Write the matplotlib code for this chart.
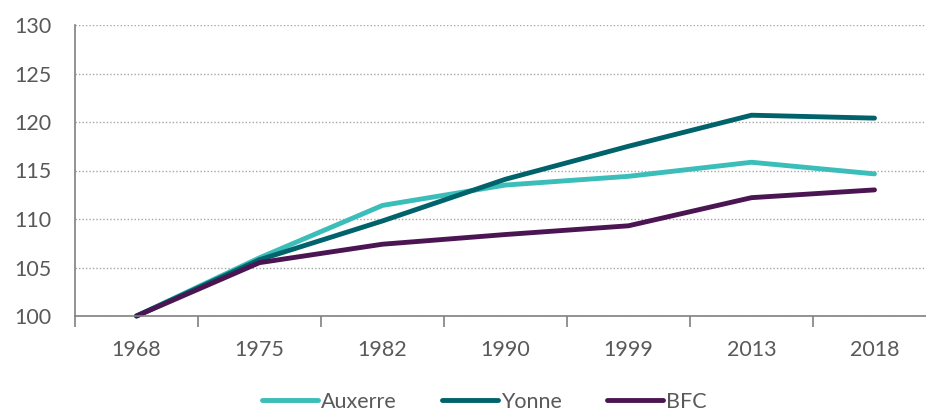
import matplotlib
matplotlib.use("Agg")
import matplotlib.pyplot as plt
import numpy as np

years = ["1968", "1975", "1982", "1990", "1999", "2013", "2018"]
auxerre = [100, 106.0, 111.4, 113.5, 114.4, 115.85, 114.65]
yonne = [100, 105.8, 109.8, 114.1, 117.5, 120.7, 120.4]
bfc = [100, 105.5, 107.4, 108.4, 109.3, 112.2, 113.0]
yticks = [100, 105, 110, 115, 120, 125, 130]

plt.rcParams['font.family'] = ['Lato', 'DejaVu Sans']
grey = '#595959'

fig = plt.figure(figsize=(9.26, 4.13), dpi=100)
ax = fig.add_axes([75/926, 1-316/413, 861/926, 291/413])
x = np.arange(len(years))
ax.plot(x, auxerre, color='#3BBDB9', lw=3.5, solid_capstyle='round', label='Auxerre', clip_on=False)
ax.plot(x, yonne, color='#00626A', lw=3.5, solid_capstyle='round', label='Yonne', clip_on=False)
ax.plot(x, bfc, color='#4B1452', lw=3.5, solid_capstyle='round', label='BFC', clip_on=False)

ax.set_xlim(-0.5, len(years) - 0.5)
ax.set_ylim(100, 130)
ax.set_yticks(yticks)
ax.set_yticklabels([str(v) for v in yticks], fontsize=15.5, color=grey)
ax.yaxis.grid(True, linestyle=(0, (1, 1.5)), color='#A6A6A6', lw=1)
ax.set_axisbelow(True)
ax.tick_params(axis='y', length=0, pad=17)
ax.set_xticks(x)
ax.set_xticklabels(years, fontsize=15.5, color=grey)
ax.tick_params(axis='x', which='major', length=0, pad=17)
ax.set_xticks(np.arange(-0.5, len(years) + 0.5, 1), minor=True)
ax.tick_params(axis='x', which='minor', length=8, width=1.2, color='#808080', direction='out')
for s in ['top', 'right']:
    ax.spines[s].set_visible(False)
for s in ['left', 'bottom']:
    ax.spines[s].set_color('#808080')
    ax.spines[s].set_linewidth(1.2)

leg = fig.legend(loc='center', bbox_to_anchor=(0.523, 1-402/413), ncol=3, frameon=False,
                 fontsize=15.5, handlelength=2.6, columnspacing=2.1, handletextpad=0.15)
for t in leg.get_texts():
    t.set_color(grey)

fig.savefig('out.png', dpi=100)
